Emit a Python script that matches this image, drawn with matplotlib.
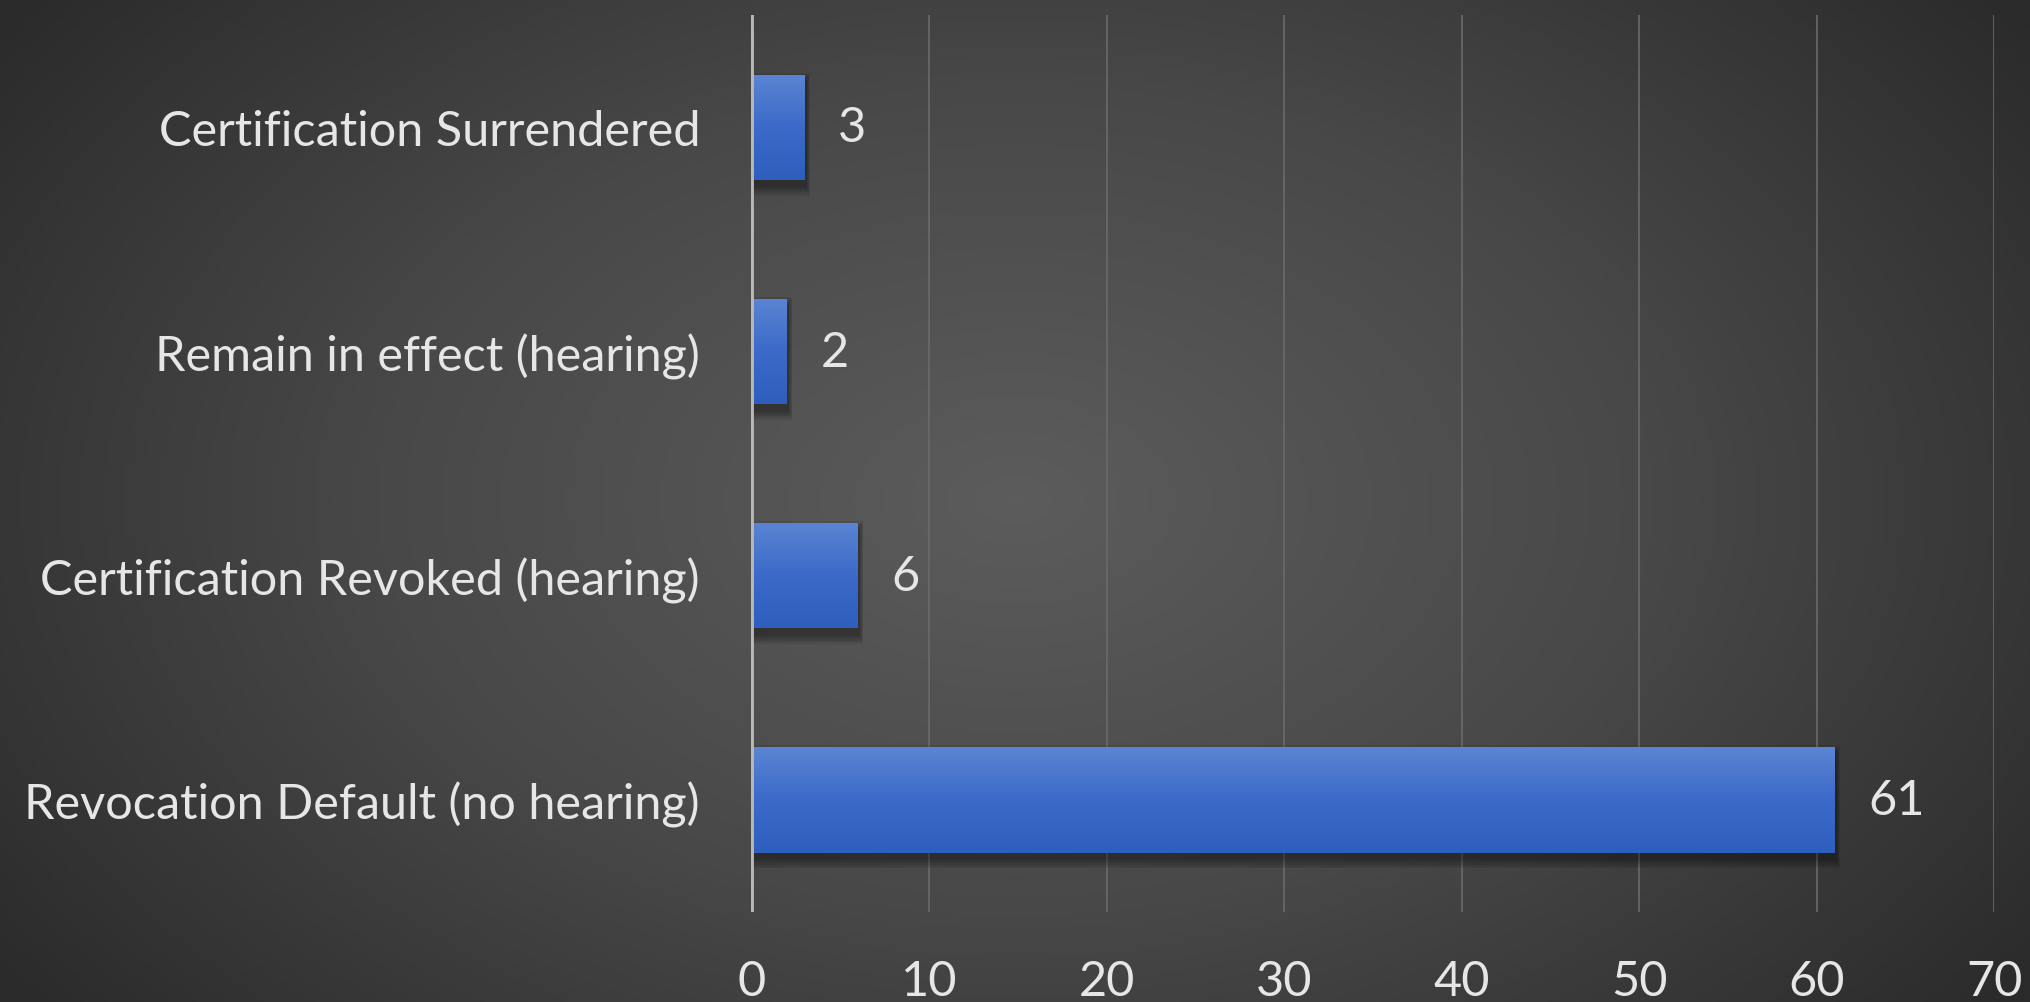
import numpy as np
import matplotlib.pyplot as plt
from matplotlib.colors import LinearSegmentedColormap
from matplotlib.patches import Rectangle

# data (top to bottom as in the picture)
categories = ['Certification Surrendered', 'Remain in effect (hearing)',
              'Certification Revoked (hearing)', 'Revocation Default (no hearing)']
values = [3, 2, 6, 61]
xticks = [0, 10, 20, 30, 40, 50, 60, 70]

plt.rcParams['font.family'] = ['Lato', 'DejaVu Sans']
TXT = '#e6e6e6'
FS = 35

fig = plt.figure(figsize=(20.31, 10.03), dpi=100)

# radial background
bg = fig.add_axes([0, 0, 1, 1], zorder=-10)
yy, xx = np.mgrid[0:1:300j, 0:1:600j]
r = np.sqrt(((xx - 0.5) / 0.72) ** 2 + ((yy - 0.5) / 0.95) ** 2)
grad = np.clip(r, 0, 1)
bg.imshow(grad, cmap=LinearSegmentedColormap.from_list(
    'bg', ['#5c5c5c', '#484848', '#2a2a2a']), aspect='auto', extent=[0, 1, 0, 1])
bg.axis('off')

ax = fig.add_axes([0.370, 0.0897, 0.612, 0.894])
ax.patch.set_alpha(0)
y = np.arange(len(categories))
h = 0.47

# soft shadows under the bars
for yi, v in zip(y, values):
    for k in range(6):
        ax.add_patch(Rectangle((0.1 - 0.04 * k, yi - h / 2 + 0.03 - 0.008 * k),
                               v + 0.08 * k, h + 0.016 * k, facecolor='black',
                               alpha=0.07, edgecolor='none', zorder=2))

bars = ax.barh(y, values, height=h, color='#4472c4', edgecolor='none', zorder=3)

bar_grad = np.linspace(0, 1, 100).reshape(-1, 1)
bcmap = LinearSegmentedColormap.from_list('b', ['#5b84d3', '#3b6ac8', '#2f5fbe'])
for b in bars:
    x0, y0 = b.get_x(), b.get_y()
    im = ax.imshow(bar_grad, cmap=bcmap, aspect='auto', zorder=4,
                   extent=[x0, x0 + b.get_width(), y0 + b.get_height(), y0])
    im.set_clip_path(b)

for yi, v in zip(y, values):
    ax.annotate(str(v), (v, yi), xytext=(24, 0), textcoords='offset points',
                ha='left', va='center', color=TXT, fontsize=FS, zorder=5)

ax.set_xlim(0, 70)
ax.set_ylim(len(categories) - 0.5, -0.5)
ax.set_xticks(xticks)
ax.set_yticks(y)
ax.set_yticklabels(categories)
ax.tick_params(axis='both', length=0, colors=TXT, labelsize=FS)
ax.tick_params(axis='y', pad=37)
ax.tick_params(axis='x', pad=34)
ax.grid(axis='x', color='#6a6a6a', linewidth=1.2, zorder=1)
ax.set_axisbelow(True)
for s in ax.spines.values():
    s.set_visible(False)
ax.axvline(0, color='#b8b8b8', linewidth=3.5, zorder=6)

fig.savefig('out.png', dpi=100)
